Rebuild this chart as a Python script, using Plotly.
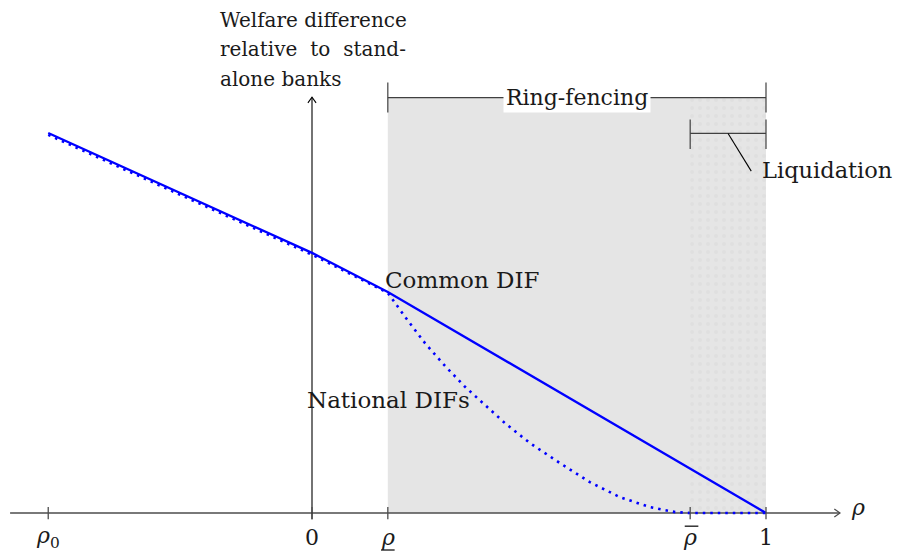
import plotly.graph_objects as go

# ---------------- data ----------------
rho0, rho_low, rho_bar, rho_one = -0.581, 0.167, 0.833, 1.0
rho_ticks = [rho0, 0.0, rho_low, rho_bar, rho_one]
rho_tick_labels = ["<i>ρ</i><sub>0</sub>", "0", "<i>ρ</i>", "<i>ρ</i>", "1"]

common_x = [-0.581, 0.0, 0.167, 1.0]
common_y = [0.837, 0.573, 0.487, 0.0]

national_x = [-0.581, 0.0, 0.167, 0.205, 0.249, 0.293, 0.337, 0.381, 0.425,
              0.480, 0.546, 0.612, 0.678, 0.744, 0.800, 0.833, 1.0]
national_y = [0.833, 0.569, 0.485, 0.432, 0.374, 0.324, 0.278, 0.238, 0.198,
              0.154, 0.110, 0.068, 0.035, 0.013, 0.002, 0.0, 0.0]

y_label_lines = ["Welfare difference",
                 "relative\u2004 to\u2004 stand-",
                 "alone banks"]

# ---------------- styling constants ----------------
FONT = "DejaVu Serif"
BLUE = "#0000ff"
AXC = "#4d4d4d"
x_axis_min, x_axis_max = -0.665, 1.163
y_axis_top = 0.916
region_top = 0.914

fig = go.Figure()

# liquidation dotted pattern
fig.add_trace(go.Scatter(
    x=[rho_bar, rho_one, rho_one, rho_bar, rho_bar],
    y=[0, 0, region_top, region_top, 0],
    mode="none", fill="toself", fillcolor="rgba(0,0,0,0)",
    fillpattern=dict(shape=".", fgcolor="#d9d9d9", bgcolor="rgba(0,0,0,0)",
                     size=8, solidity=0.2),
    hoverinfo="skip", showlegend=False))

# axes drawn as lines
fig.add_trace(go.Scatter(x=[x_axis_min, x_axis_max], y=[0, 0], mode="lines",
                         line=dict(color=AXC, width=1.3), hoverinfo="skip", showlegend=False))
fig.add_trace(go.Scatter(x=[0, 0], y=[-0.014, y_axis_top], mode="lines",
                         line=dict(color="black", width=1.1), hoverinfo="skip", showlegend=False))

# curves
fig.add_trace(go.Scatter(x=national_x, y=national_y, mode="lines",
                         line=dict(color=BLUE, width=2.6, dash="2.5px,5px"),
                         hoverinfo="skip", showlegend=False))
fig.add_trace(go.Scatter(x=common_x, y=common_y, mode="lines",
                         line=dict(color=BLUE, width=2.3),
                         hoverinfo="skip", showlegend=False))

shapes = []
# shaded ring-fencing region
shapes.append(dict(type="rect", xref="x", yref="y", x0=rho_low, x1=rho_one, y0=0, y1=region_top,
                   fillcolor="#e5e5e5", line=dict(width=0), layer="below"))
# ticks
for t in rho_ticks:
    shapes.append(dict(type="line", xref="x", yref="y", x0=t, x1=t, y0=-0.014, y1=0.013,
                       line=dict(color=AXC, width=1.3), layer="above"))
# arrow heads
shapes.append(dict(type="path", xref="x", yref="y",
                   path=f"M {x_axis_max-0.0125} 0.009 L {x_axis_max} 0 L {x_axis_max-0.0125} -0.009",
                   line=dict(color=AXC, width=1.2), layer="above"))
shapes.append(dict(type="path", xref="x", yref="y",
                   path=f"M -0.009 {y_axis_top-0.0125} L 0 {y_axis_top} L 0.009 {y_axis_top-0.0125}",
                   line=dict(color="black", width=1.1), layer="above"))
# underline / overline for rho tick labels
shapes.append(dict(type="line", xref="x", yref="y", x0=rho_low-0.015, x1=rho_low+0.015,
                   y0=-0.0815, y1=-0.0815, line=dict(color="black", width=1.2)))
shapes.append(dict(type="line", xref="x", yref="y", x0=rho_bar-0.012, x1=rho_bar+0.018,
                   y0=-0.029, y1=-0.029, line=dict(color="black", width=1.2)))

BRC = "#404040"
# ring-fencing bracket
rf_y = 0.915
shapes.append(dict(type="line", xref="x", yref="y", x0=rho_low, x1=rho_one, y0=rf_y, y1=rf_y,
                   line=dict(color=BRC, width=1.2)))
for xx in (rho_low, rho_one):
    shapes.append(dict(type="line", xref="x", yref="y", x0=xx, x1=xx, y0=rf_y-0.033, y1=rf_y+0.033,
                       line=dict(color=BRC, width=1.2)))
# liquidation bracket
lq_y = 0.836
shapes.append(dict(type="line", xref="x", yref="y", x0=rho_bar, x1=rho_one, y0=lq_y, y1=lq_y,
                   line=dict(color=BRC, width=1.2)))
for xx in (rho_bar, rho_one):
    shapes.append(dict(type="line", xref="x", yref="y", x0=xx, x1=xx, y0=lq_y-0.034, y1=lq_y+0.031,
                       line=dict(color=BRC, width=1.2)))
mid_lq = (rho_bar + rho_one) / 2
shapes.append(dict(type="line", xref="x", yref="y", x0=mid_lq, x1=mid_lq+0.051, y0=lq_y, y1=lq_y-0.083,
                   line=dict(color="black", width=1.1)))

def f(size):
    return dict(family=FONT, size=size, color="#1a1a1a")

ann = []
for t, lab in zip(rho_ticks, rho_tick_labels):
    ann.append(dict(x=t, y=-0.053, xref="x", yref="y", text=lab, showarrow=False,
                    xanchor="center", yanchor="middle", font=f(22)))
ann.append(dict(x=1.2026, y=0.013, xref="x", yref="y", text="<i>ρ</i>", showarrow=False,
                xanchor="center", yanchor="middle", font=f(22)))
ann.append(dict(x=(rho_low + rho_one) / 2, y=rf_y, xref="x", yref="y", text="Ring-fencing",
                showarrow=False, xanchor="center", yanchor="middle", font=f(22),
                bgcolor="white", borderpad=2))
ann.append(dict(x=0.987, y=0.7555, xref="x", yref="y", text="Liquidation", showarrow=False,
                xanchor="left", yanchor="middle", font=f(22.5)))
ann.append(dict(x=0.157, y=0.513, xref="x", yref="y", text="Common DIF", showarrow=False,
                xanchor="left", yanchor="middle", font=f(23)))
ann.append(dict(x=-0.015, y=0.249, xref="x", yref="y", text="National DIFs", showarrow=False,
                xanchor="left", yanchor="middle", font=f(23)))
for i, line in enumerate(y_label_lines):
    ann.append(dict(x=-0.207, y=1.086 - i * 0.065, xref="x", yref="y", text=line, showarrow=False,
                    xanchor="left", yanchor="middle", align="left", font=f(20)))

fig.update_layout(
    width=897, height=552,
    margin=dict(l=0, r=0, t=0, b=0),
    paper_bgcolor="white", plot_bgcolor="white",
    xaxis=dict(range=[-312/454, 585/454], visible=False, fixedrange=True),
    yaxis=dict(range=[-39/454, 513/454], visible=False, fixedrange=True),
    shapes=shapes, annotations=ann, showlegend=False,
)

fig.write_html("out.html")
